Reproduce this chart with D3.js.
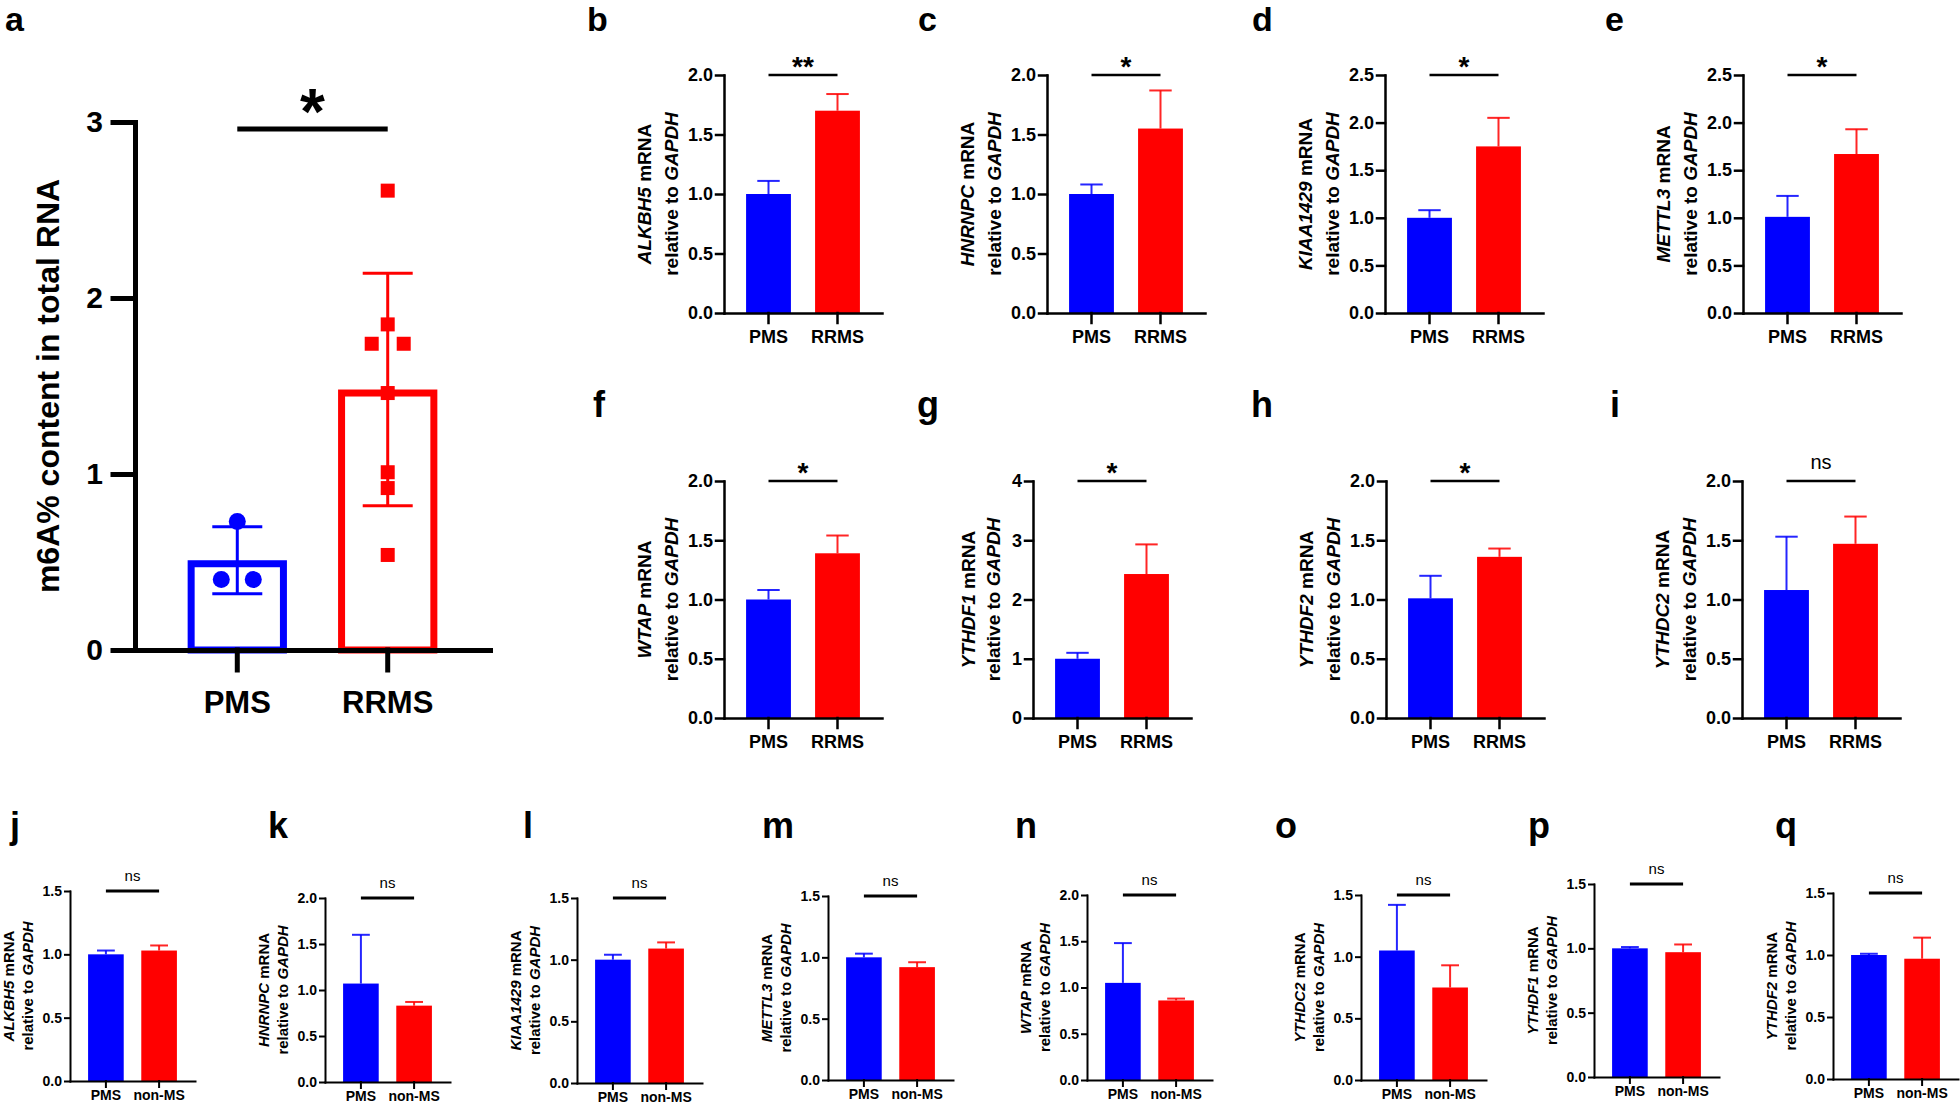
<!DOCTYPE html>
<html>
<head>
<meta charset="utf-8">
<script src="https://cdn.jsdelivr.net/npm/d3@7"></script>
<style>
  body { margin: 0; background: #fff; }
  svg { display: block; font-family: "Liberation Sans", Arial, Helvetica, sans-serif; }
</style>
</head>
<body>
<svg id="fig" width="1960" height="1106"></svg>
<script>
// ---- data ----
// panel a: m6A content
const groupsA = ["PMS", "RRMS"];
const m6aMean = [0.51, 1.48];
const m6aSd = [0.19, 0.66];
const m6aPmsPoints = [0.73, 0.40, 0.40];
const m6aRrmsPoints = [2.61, 1.85, 1.74, 1.74, 1.46, 1.01, 0.92, 0.54];
const m6aTicks = [0, 1, 2, 3];

// panels b-i: PMS vs RRMS
const rrmsGroups = ["PMS", "RRMS"];
const rrmsGenes = ["ALKBH5", "HNRNPC", "KIAA1429", "METTL3", "WTAP", "YTHDF1", "YTHDF2", "YTHDC2"];
const rrmsPmsMean = [1.00, 1.00, 1.00, 1.01, 1.00, 1.00, 1.01, 1.08];
const rrmsPmsUpper = [1.11, 1.08, 1.08, 1.23, 1.08, 1.10, 1.20, 1.53];
const rrmsMean = [1.70, 1.55, 1.75, 1.67, 1.39, 2.43, 1.36, 1.47];
const rrmsUpper = [1.84, 1.87, 2.05, 1.93, 1.54, 2.93, 1.43, 1.70];
const rrmsYMax = [2.0, 2.0, 2.5, 2.5, 2.0, 4, 2.0, 2.0];
const rrmsYStep = [0.5, 0.5, 0.5, 0.5, 0.5, 1, 0.5, 0.5];
const rrmsSig = ["**", "*", "*", "*", "*", "*", "*", "ns"];

// panels j-q: PMS vs non-MS
const nonGroups = ["PMS", "non-MS"];
const nonGenes = ["ALKBH5", "HNRNPC", "KIAA1429", "METTL3", "WTAP", "YTHDC2", "YTHDF1", "YTHDF2"];
const nonPmsMean = [1.00, 1.07, 1.00, 1.00, 1.05, 1.05, 1.00, 1.00];
const nonPmsUpper = [1.03, 1.60, 1.04, 1.03, 1.48, 1.42, 1.01, 1.01];
const nonMean = [1.03, 0.83, 1.09, 0.92, 0.86, 0.75, 0.97, 0.97];
const nonUpper = [1.07, 0.87, 1.14, 0.96, 0.88, 0.93, 1.03, 1.14];
const nonYMax = [1.5, 2.0, 1.5, 1.5, 2.0, 1.5, 1.5, 1.5];
const nonSig = ["ns", "ns", "ns", "ns", "ns", "ns", "ns", "ns"];

const letters = "abcdefghijklmnopq".split("");

// ---- layout ----
const blue = "#0000ff";
const red = "#ff0000";
const colors = [blue, red];

const svg = d3.select("#fig");

const bigStyle = { len: 158, pi: 0.35, po: 0.32, tick: 8, xtick: 10, pad: 3, stroke: 2.5,
  tickFont: 18, labelFont: 18, labelDy: 30, titleFont: 19, sigStroke: 2.5 };
const smallStyle = { len: 125, pi: 0.33, po: 0.34, tick: 5, xtick: 6, pad: 3, stroke: 2,
  tickFont: 14, labelFont: 14, labelDy: 19, titleFont: 15, sigStroke: 3 };

const row1X = [724, 1047, 1385, 1743];
const row2X = [724, 1033, 1386, 1742];
const row3X = [70, 325, 577, 828, 1087, 1361, 1594, 1833];
const row3Top = [891, 898, 898, 896, 895, 895, 884, 893];
const row3Bottom = [1081, 1082, 1083, 1080, 1080, 1080, 1077, 1079];

const letterPos = [
  [5, 31], [587, 31], [918, 31], [1252, 31], [1605, 31],
  [593, 417], [917, 417], [1251, 417], [1610, 417],
  [10, 838], [268, 838], [523, 838], [762, 838], [1015, 838], [1275, 838], [1528, 838], [1775, 838]
];

// panel letters
svg.selectAll("text.letter")
  .data(letters)
  .join("text")
  .attr("class", "letter")
  .attr("x", (d, i) => letterPos[i][0])
  .attr("y", (d, i) => letterPos[i][1])
  .attr("font-size", (d, i) => i < 5 ? 34 : 36)
  .attr("font-weight", "bold")
  .text(d => d);

function styleAxis(a, st, fontSize) {
  a.attr("font-family", null).attr("font-size", null);
  a.selectAll("path, line").attr("stroke", "#000").attr("stroke-width", st).attr("stroke-linecap", "square");
  a.selectAll("text").attr("font-size", fontSize).attr("font-weight", "bold").attr("fill", "#000");
}

function yTitle(g, cx1, cx2, cy, gene, font) {
  const t1 = g.append("text")
    .attr("transform", `translate(${cx1},${cy}) rotate(-90)`)
    .attr("text-anchor", "middle").attr("dy", "0.35em")
    .attr("font-size", font).attr("font-weight", "bold");
  t1.append("tspan").attr("font-style", "italic").text(gene);
  t1.append("tspan").text(" mRNA");
  const t2 = g.append("text")
    .attr("transform", `translate(${cx2},${cy}) rotate(-90)`)
    .attr("text-anchor", "middle").attr("dy", "0.35em")
    .attr("font-size", font).attr("font-weight", "bold");
  t2.append("tspan").text("relative to ");
  t2.append("tspan").attr("font-style", "italic").text("GAPDH");
}

function drawSmallPanel(cfg) {
  const st = cfg.st;
  const g = svg.append("g");
  const y = d3.scaleLinear().domain([0, cfg.yMax]).range([cfg.bottom, cfg.top]);
  const x = d3.scaleBand().domain(cfg.groups)
    .range([cfg.x, cfg.x + st.len])
    .paddingInner(st.pi).paddingOuter(st.po);
  const fmt = cfg.yStep < 1 ? d3.format(".1f") : d3.format("d");
  const ticks = d3.range(0, cfg.yMax + 1e-6, cfg.yStep);
  const bw = x.bandwidth();

  // bars
  g.selectAll("rect.bar")
    .data(cfg.means)
    .join("rect")
    .attr("x", (d, i) => x(cfg.groups[i]))
    .attr("width", bw)
    .attr("y", d => y(d))
    .attr("height", d => y(0) - y(d))
    .attr("fill", (d, i) => colors[i]);

  // error bars (upper only)
  cfg.means.forEach((m, i) => {
    const cx = x(cfg.groups[i]) + bw / 2;
    g.append("line")
      .attr("x1", cx).attr("x2", cx)
      .attr("y1", y(m)).attr("y2", y(cfg.uppers[i]))
      .attr("stroke", colors[i]).attr("stroke-width", 2).attr("opacity", 0.85);
    g.append("line")
      .attr("x1", cx - bw / 4).attr("x2", cx + bw / 4)
      .attr("y1", y(cfg.uppers[i])).attr("y2", y(cfg.uppers[i]))
      .attr("stroke", colors[i]).attr("stroke-width", 2).attr("opacity", 0.85);
  });

  // axes
  g.append("g")
    .attr("transform", `translate(${cfg.x},0)`)
    .call(d3.axisLeft(y).tickValues(ticks).tickFormat(fmt)
      .tickSize(st.tick).tickSizeOuter(0).tickPadding(st.pad))
    .call(a => styleAxis(a, st.stroke, st.tickFont));

  g.append("g")
    .attr("transform", `translate(0,${cfg.bottom})`)
    .call(d3.axisBottom(x).tickSize(st.xtick).tickSizeOuter(0))
    .call(a => styleAxis(a, st.stroke, st.labelFont))
    .call(a => a.selectAll("text").attr("y", st.labelDy).attr("dy", null));

  // significance
  const x0 = x(cfg.groups[0]) + bw / 2;
  const x1 = x(cfg.groups[1]) + bw / 2;
  const ly = y(cfg.yMax);
  g.append("line")
    .attr("x1", x0).attr("x2", x1).attr("y1", ly).attr("y2", ly)
    .attr("stroke", "#000").attr("stroke-width", st.sigStroke);
  const isNs = cfg.sig === "ns";
  g.append("text")
    .attr("x", (x0 + x1) / 2)
    .attr("y", isNs ? ly - (st === smallStyle ? 10 : 12) : ly + 1)
    .attr("text-anchor", "middle")
    .attr("font-size", isNs ? (st === smallStyle ? 15 : 20) : 28)
    .attr("font-weight", isNs ? "normal" : "bold")
    .text(cfg.sig);

  // title
  yTitle(g, cfg.x + cfg.t1, cfg.x + cfg.t2, (cfg.top + cfg.bottom) / 2, cfg.gene, st.titleFont);
}

// rows 1 and 2
rrmsGenes.forEach((gene, i) => {
  const row = i < 4 ? 0 : 1;
  const col = i % 4;
  const isInt = rrmsYStep[i] >= 1;
  drawSmallPanel({
    st: bigStyle,
    x: row === 0 ? row1X[col] : row2X[col],
    top: row === 0 ? 75 : 481,
    bottom: row === 0 ? 313 : 718,
    groups: rrmsGroups,
    means: [rrmsPmsMean[i], rrmsMean[i]],
    uppers: [rrmsPmsUpper[i], rrmsUpper[i]],
    yMax: rrmsYMax[i],
    yStep: rrmsYStep[i],
    sig: rrmsSig[i],
    gene: gene,
    t1: isInt ? -65 : -80,
    t2: isInt ? -40 : -53
  });
});

// row 3
nonGenes.forEach((gene, i) => {
  drawSmallPanel({
    st: smallStyle,
    x: row3X[i],
    top: row3Top[i],
    bottom: row3Bottom[i],
    groups: nonGroups,
    means: [nonPmsMean[i], nonMean[i]],
    uppers: [nonPmsUpper[i], nonUpper[i]],
    yMax: nonYMax[i],
    yStep: 0.5,
    sig: nonSig[i],
    gene: gene,
    t1: -61,
    t2: -42
  });
});

// ---- panel a ----
(function drawPanelA() {
  const g = svg.append("g");
  const axisX = 135, axisLen = 355, top = 122, bottom = 650;
  const y = d3.scaleLinear().domain([0, 3]).range([bottom, top]);
  const x = d3.scaleBand().domain(groupsA).range([axisX, axisX + axisLen])
    .paddingInner(0.34).paddingOuter(0.35);
  const bw = x.bandwidth();
  const sw = 7;

  // open bars
  g.selectAll("rect.abar")
    .data(m6aMean)
    .join("rect")
    .attr("x", (d, i) => x(groupsA[i]) + sw / 2)
    .attr("width", bw - sw)
    .attr("y", d => y(d) + sw / 2)
    .attr("height", d => y(0) - y(d) - sw / 2)
    .attr("fill", "#fff")
    .attr("stroke", (d, i) => colors[i])
    .attr("stroke-width", sw);

  // error bars mean ± SD
  m6aMean.forEach((m, i) => {
    const cx = x(groupsA[i]) + bw / 2;
    const lo = y(m - m6aSd[i]), hi = y(m + m6aSd[i]);
    g.append("line").attr("x1", cx).attr("x2", cx).attr("y1", lo).attr("y2", hi)
      .attr("stroke", colors[i]).attr("stroke-width", 3);
    [lo, hi].forEach(v => {
      g.append("line").attr("x1", cx - 25).attr("x2", cx + 25).attr("y1", v).attr("y2", v)
        .attr("stroke", colors[i]).attr("stroke-width", 3);
    });
  });

  // scatter points, equal values spread side by side
  function jitter(vals) {
    return vals.map((v, i) => {
      const same = vals.map((w, j) => j).filter(j => vals[j] === v);
      const k = same.indexOf(i);
      return (k - (same.length - 1) / 2) * 32;
    });
  }
  const cxP = x("PMS") + bw / 2;
  const jP = jitter(m6aPmsPoints);
  g.selectAll("circle.pt")
    .data(m6aPmsPoints)
    .join("circle")
    .attr("cx", (d, i) => cxP + jP[i])
    .attr("cy", d => y(d))
    .attr("r", 8.5)
    .attr("fill", blue);
  const cxR = x("RRMS") + bw / 2;
  const jR = jitter(m6aRrmsPoints);
  g.selectAll("rect.pt")
    .data(m6aRrmsPoints)
    .join("rect")
    .attr("x", (d, i) => cxR + jR[i] - 7)
    .attr("y", d => y(d) - 7)
    .attr("width", 14)
    .attr("height", 14)
    .attr("fill", red);

  // axes
  g.append("g")
    .attr("transform", `translate(${axisX},0)`)
    .call(d3.axisLeft(y).tickValues(m6aTicks).tickFormat(d3.format("d"))
      .tickSize(22).tickSizeOuter(0).tickPadding(10))
    .call(a => styleAxis(a, 5, 30));
  g.append("g")
    .attr("transform", `translate(0,${bottom})`)
    .call(d3.axisBottom(x).tickSize(20).tickSizeOuter(0))
    .call(a => styleAxis(a, 5, 31))
    .call(a => a.selectAll("text").attr("y", 63).attr("dy", null));

  // significance
  const x0 = x("PMS") + bw / 2, x1 = x("RRMS") + bw / 2;
  g.append("line").attr("x1", x0).attr("x2", x1).attr("y1", 129).attr("y2", 129)
    .attr("stroke", "#000").attr("stroke-width", 5);
  g.append("text").attr("x", (x0 + x1) / 2).attr("y", 134)
    .attr("text-anchor", "middle").attr("font-size", 64).attr("font-weight", "bold")
    .text("*");

  // y title
  g.append("text")
    .attr("transform", `translate(48,${(top + bottom) / 2}) rotate(-90)`)
    .attr("text-anchor", "middle").attr("dy", "0.35em")
    .attr("font-size", 32).attr("font-weight", "bold")
    .text("m6A% content in total RNA");
})();
</script>
</body>
</html>
